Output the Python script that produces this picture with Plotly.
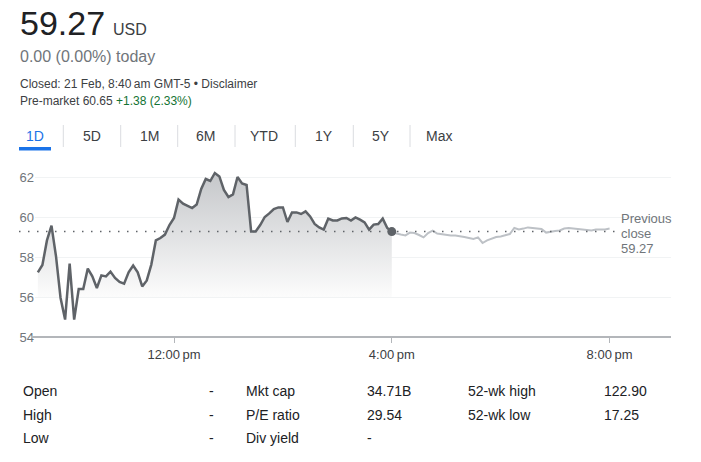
import pandas as pd
import plotly.graph_objects as go

# ---------------- data ----------------
session_prices = [57.23, 57.6, 58.83, 59.57, 58.03, 55.95, 54.87, 57.67, 54.87, 56.4,
                  56.4, 57.42, 57.03, 56.45, 57.08, 57.03, 57.27, 56.95, 56.75, 56.67,
                  57.23, 57.57, 57.23, 56.53, 56.83, 57.62, 58.83, 58.95, 59.12, 59.6,
                  59.95, 60.87, 60.67, 60.58, 60.45, 60.62, 61.4, 61.9, 61.8, 62.2,
                  62.03, 61.35, 61.0, 61.13, 62.0, 61.68, 61.6, 59.28, 59.28, 59.6,
                  60.0, 60.18, 60.4, 60.48, 60.48, 59.75, 60.23, 60.23, 60.15, 60.28,
                  60.03, 59.65, 59.48, 59.37, 59.92, 59.83, 59.83, 59.93, 59.95, 59.82,
                  59.98, 59.87, 59.73, 59.37, 59.62, 59.65, 59.92, 59.45, 59.27]
after_hours_prices = [59.27, 59.17, 59.12, 59.08, 59.22, 59.2, 59.1, 58.98, 59.2, 59.32,
                      59.17, 59.13, 59.1, 59.08, 59.07, 59.05, 59.0, 58.95, 58.9, 58.98,
                      58.7, 58.83, 58.93, 59.0, 59.03, 59.08, 59.15, 59.45, 59.38, 59.42,
                      59.48, 59.45, 59.43, 59.4, 59.22, 59.27, 59.3, 59.33, 59.42, 59.45,
                      59.43, 59.4, 59.37, 59.35, 59.32, 59.37, 59.37, 59.38, 59.42]
previous_close = 59.27
session_start = "2025-02-20 09:30"
after_hours_start = "2025-02-20 16:00"
x_ticks = ["2025-02-20 12:00", "2025-02-20 16:00", "2025-02-20 20:00"]
x_tick_labels = ["12:00\u202fpm", "4:00\u202fpm", "8:00\u202fpm"]
y_ticks = [54, 56, 58, 60, 62]

price_text = "59.27"
currency = "USD"
change_text = "0.00 (0.00%) today"
closed_text = "Closed: 21 Feb, 8:40\u202fam GMT-5 \u2022 Disclaimer"
premarket_label = "Pre-market 60.65 "
premarket_change = "+1.38 (2.33%)"
tabs = ["1D", "5D", "1M", "6M", "YTD", "1Y", "5Y", "Max"]

stats_col1_labels = ["Open", "High", "Low"]
stats_col1_values = ["-", "-", "-"]
stats_col2_labels = ["Mkt cap", "P/E ratio", "Div yield"]
stats_col2_values = ["34.71B", "29.54", "-"]
stats_col3_labels = ["52-wk high", "52-wk low"]
stats_col3_values = ["122.90", "17.25"]

# ---------------- layout geometry ----------------
W, H = 701, 462
ML, MR, MT, MB = 35, 30, 167, 125
PW, PH = W - ML - MR, H - MT - MB
Y_RANGE = [54, 62.5]
X_RANGE = ["2025-02-20 09:26:50", "2025-02-20 21:07:40"]
FILL_FLOOR = 56

FONT = "Arial, 'Liberation Sans', sans-serif"
DARK = "#202124"
GREY = "#70757a"
MID = "#3c4043"
LINE = "#5f6368"
BLUE = "#1a73e8"


def px(x):
    return (x - ML) / PW


def py(y):
    return (H - MB - y) / PH


def yval(v):
    return (v - Y_RANGE[0]) / (Y_RANGE[1] - Y_RANGE[0])


session_times = pd.date_range(session_start, periods=len(session_prices), freq="5min")
ah_times = pd.date_range(after_hours_start, periods=len(after_hours_prices), freq="5min")

fig = go.Figure()

# floor for the fill
fig.add_trace(go.Scatter(x=session_times, y=[FILL_FLOOR] * len(session_times),
                         mode="lines", line=dict(width=0, color="rgba(0,0,0,0)"),
                         hoverinfo="skip", showlegend=False))
# regular session
fig.add_trace(go.Scatter(x=session_times, y=session_prices, mode="lines",
                         line=dict(color=LINE, width=2.5),
                         fill="tonexty",
                         fillgradient=dict(type="vertical",
                                           colorscale=[[0, "rgba(252,252,252,1)"],
                                                       [1, "rgba(196,198,201,1)"]],
                                           start=FILL_FLOOR, stop=62.3),
                         showlegend=False, hoverinfo="skip"))
# after hours
fig.add_trace(go.Scatter(x=ah_times, y=after_hours_prices, mode="lines",
                         line=dict(color="#bdc1c6", width=2),
                         showlegend=False, hoverinfo="skip"))
# closing dot
fig.add_trace(go.Scatter(x=[session_times[-1]], y=[session_prices[-1]], mode="markers",
                         marker=dict(color=LINE, size=9),
                         showlegend=False, hoverinfo="skip"))

shapes = []
# previous close dotted line
shapes.append(dict(type="line", xref="paper", yref="paper",
                   x0=px(19), x1=px(615), y0=yval(previous_close), y1=yval(previous_close),
                   line=dict(color=LINE, width=1.5, dash="1.5px,7.5px")))
# axis line (slightly extended on the left)
shapes.append(dict(type="line", xref="paper", yref="paper",
                   x0=px(31), x1=1, y0=0, y1=0,
                   line=dict(color="#b3b6ba", width=2)))
# tab separators
for sx in [63.3, 120.7, 177.7, 235, 295.3, 353.3, 410]:
    shapes.append(dict(type="line", xref="paper", yref="paper",
                       x0=px(sx), x1=px(sx), y0=py(125), y1=py(147),
                       line=dict(color="#dadce0", width=1)))
# active tab underline
shapes.append(dict(type="rect", xref="paper", yref="paper",
                   x0=px(19), x1=px(51), y0=py(150.5), y1=py(147),
                   line=dict(width=0), fillcolor=BLUE))

ann = []


def text(x, y, s, size, color, anchor="left"):
    ann.append(dict(x=px(x), y=py(y), xref="paper", yref="paper", text=s,
                    showarrow=False, xanchor=anchor, yanchor="middle",
                    font=dict(family=FONT, size=size, color=color)))


text(18, 23, price_text, 34, DARK)
text(111, 29.5, currency, 16, MID)
text(18, 56.5, change_text, 16, GREY)
text(18, 83.5, closed_text, 12, MID)
text(18, 100.7, premarket_label + "<span style='color:#137333'>" + premarket_change + "</span>", 12, MID)

tab_centers = [35, 91.7, 149, 205.7, 264.3, 324, 381.3, 439]
for i, t in enumerate(tabs):
    text(tab_centers[i], 135.7, t, 14, BLUE if i == 0 else MID, anchor="center")

# previous close label
text(619, 218, "Previous", 13, GREY)
text(619, 233, "close", 13, GREY)
text(619, 248, f"{previous_close:.2f}", 13, GREY)

row_y = [391.3, 414.7, 438]
for i in range(3):
    text(21, row_y[i], stats_col1_labels[i], 14, DARK)
    text(207, row_y[i], stats_col1_values[i], 14, DARK)
    text(244, row_y[i], stats_col2_labels[i], 14, DARK)
    text(365, row_y[i], stats_col2_values[i], 14, DARK)
for i in range(2):
    text(466, row_y[i], stats_col3_labels[i], 14, DARK)
    text(602, row_y[i], stats_col3_values[i], 14, DARK)

fig.update_layout(
    width=W, height=H,
    margin=dict(l=ML, r=MR, t=MT, b=MB),
    paper_bgcolor="white", plot_bgcolor="white",
    font=dict(family=FONT),
    showlegend=False,
    shapes=shapes,
    annotations=ann,
    xaxis=dict(range=X_RANGE, type="date", tickvals=x_ticks, ticktext=x_tick_labels,
               showgrid=False, zeroline=False, showline=False,
               ticks="outside", ticklen=5, tickcolor="#b3b6ba", tickwidth=1,
               tickfont=dict(size=13, color=MID, family=FONT), fixedrange=True),
    yaxis=dict(range=Y_RANGE, tickvals=y_ticks, ticktext=[str(v) for v in y_ticks],
               showgrid=True, gridcolor="#f1f3f4", gridwidth=1, zeroline=False,
               showline=False, ticks="",
               tickfont=dict(size=13, color=GREY, family=FONT), fixedrange=True),
)

fig.write_html("out.html", config={"displayModeBar": False})
